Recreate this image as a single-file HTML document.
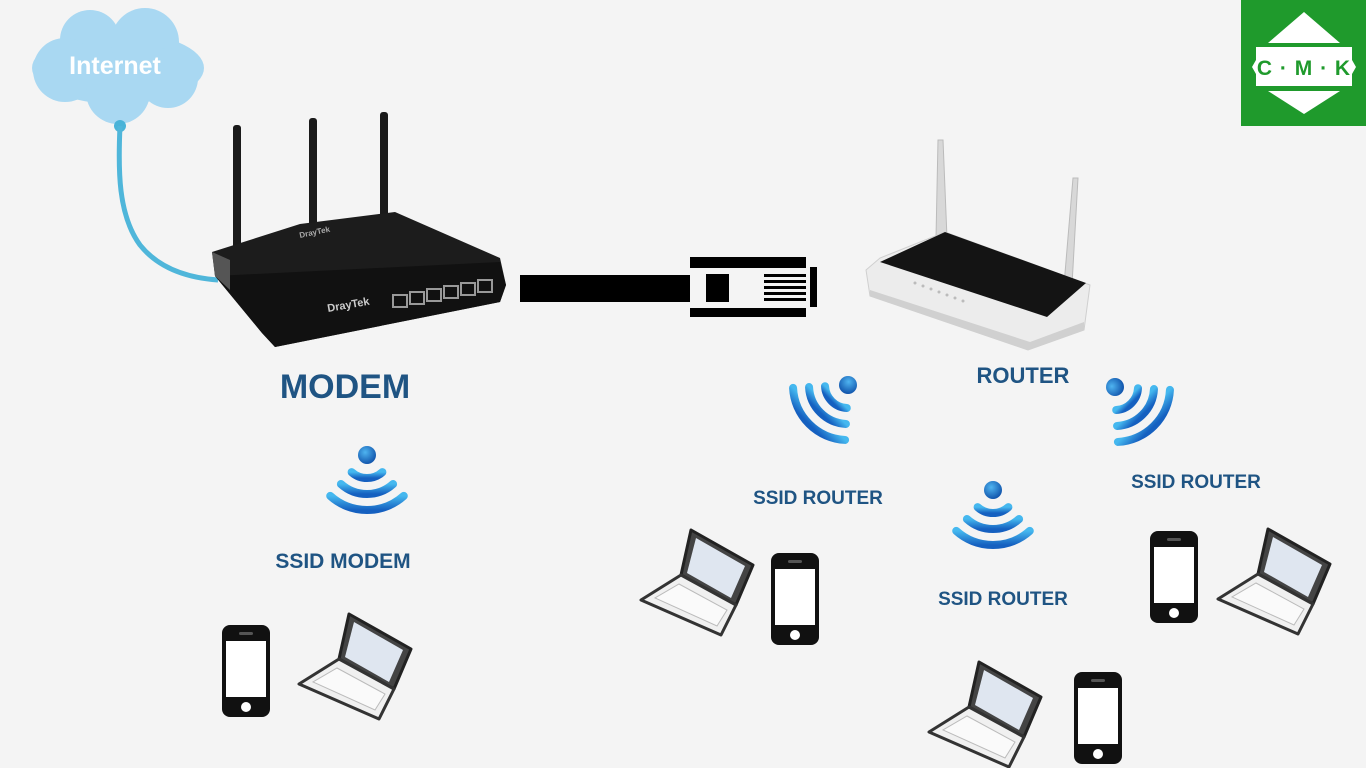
<!DOCTYPE html>
<html><head><meta charset="utf-8"><style>
html,body{margin:0;padding:0;background:#f4f4f4;}
svg{display:block;}
text{font-family:"Liberation Sans",Arial,sans-serif;font-weight:bold;}
</style></head><body>
<svg width="1366" height="768" viewBox="0 0 1366 768" xmlns="http://www.w3.org/2000/svg">
<defs>
<linearGradient id="wg" x1="0" y1="0" x2="0" y2="1">
<stop offset="0" stop-color="#45b8ef"/><stop offset="1" stop-color="#1560c0"/></linearGradient>
<radialGradient id="dg" cx="0.4" cy="0.35" r="0.7"><stop offset="0" stop-color="#4fb4f0"/><stop offset="1" stop-color="#0d4fa8"/></radialGradient>
<g id="wifi">
<circle cx="0" cy="0" r="9" fill="url(#dg)"/>
<g fill="none" stroke="url(#wg)" stroke-width="8" stroke-linecap="round">
<path d="M15.4 17.1 A23 23 0 0 1 -15.4 17.1"/>
<path d="M26.1 29 A39 39 0 0 1 -26.1 29"/>
<path d="M36.8 40.9 A55 55 0 0 1 -36.8 40.9"/>
</g></g>
<g id="phone">
<rect x="0" y="0" width="48" height="92" rx="8" fill="#111"/>
<rect x="4" y="16" width="40" height="56" fill="#fff"/>
<rect x="17" y="7" width="14" height="3" rx="1.5" fill="#555"/>
<circle cx="24" cy="82" r="5" fill="#fff"/>
</g>
<g id="laptop">
<polygon points="50,2 112,37 95,77 40,47" fill="#444" stroke="#222" stroke-width="3" stroke-linejoin="round"/>
<polygon points="55,10 104,38 90,70 46,45" fill="#dfe6f0"/>
<polygon points="40,47 95,77 80,107 0,72" fill="#f0f0f0" stroke="#333" stroke-width="3" stroke-linejoin="round"/>
<polygon points="38,56 86,82 76,98 14,70" fill="#fafafa" stroke="#bbb" stroke-width="1"/>
</g>
</defs>

<g fill="#a9d8f2">
<ellipse cx="118" cy="68" rx="86" ry="36"/>
<circle cx="90" cy="40" r="30"/>
<circle cx="145" cy="42" r="34"/>
<circle cx="65" cy="70" r="32"/>
<circle cx="118" cy="92" r="32"/>
<circle cx="168" cy="78" r="30"/>
</g>
<text x="115" y="74" font-size="25" fill="#fff" text-anchor="middle">Internet</text>
<circle cx="120" cy="126" r="6" fill="#49b3d8"/>
<path d="M120 126 C118 170 118 215 140 245 C160 270 190 278 218 280" fill="none" stroke="#4fb6da" stroke-width="5"/>

<g fill="#1a1a1a">
<rect x="233" y="125" width="8" height="130" rx="3"/>
<rect x="309" y="118" width="8" height="112" rx="3"/>
<rect x="380" y="112" width="8" height="105" rx="3"/>
</g>
<polygon points="212,252 300,224 395,212 500,258 506,285 500,302 275,347 262,333 215,276" fill="#1c1c1c"/>
<polygon points="215,276 500,262 506,285 500,302 275,347 262,333" fill="#111"/>
<polygon points="212,252 230,260 230,290 215,276" fill="#555"/>
<g fill="none" stroke="#999" stroke-width="2">
<rect x="393" y="295" width="14" height="12"/><rect x="410" y="292" width="14" height="12"/>
<rect x="427" y="289" width="14" height="12"/><rect x="444" y="286" width="14" height="12"/>
<rect x="461" y="283" width="14" height="12"/><rect x="478" y="280" width="14" height="12"/>
</g>
<text x="328" y="312" font-size="11" fill="#ccc" transform="rotate(-10 328 312)">DrayTek</text>
<text x="300" y="238" font-size="8" fill="#aaa" transform="rotate(-12 300 238)">DrayTek</text>

<rect x="520" y="275" width="170" height="27" fill="#000"/>
<rect x="690" y="257" width="116" height="11" fill="#000"/>
<rect x="690" y="308" width="116" height="9" fill="#000"/>
<rect x="706" y="274" width="23" height="28" fill="#000"/>
<g fill="#000">
<rect x="764" y="274" width="42" height="3"/><rect x="764" y="280" width="42" height="3"/>
<rect x="764" y="286" width="42" height="3"/><rect x="764" y="292" width="42" height="3"/>
<rect x="764" y="298" width="42" height="3"/>
</g>
<rect x="810" y="267" width="7" height="40" fill="#000"/>

<polygon points="938,140 943,140 947,238 936,238" fill="#d8d8d8" stroke="#bbb" stroke-width="1"/>
<polygon points="1073,178 1078,178 1072,285 1064,285" fill="#d8d8d8" stroke="#bbb" stroke-width="1"/>
<polygon points="866,270 880,258 945,232 1090,285 1084,330 1028,350 870,296" fill="#ececec" stroke="#cfcfcf" stroke-width="1"/>
<polygon points="870,290 1030,342 1084,322 1084,330 1028,350 870,296" fill="#d0d0d0"/>
<polygon points="880,262 945,232 1086,283 1047,317" fill="#141414"/>
<g fill="#bbb"><circle cx="915" cy="283" r="1.5"/><circle cx="923" cy="286" r="1.5"/><circle cx="931" cy="289" r="1.5"/><circle cx="939" cy="292" r="1.5"/><circle cx="947" cy="295" r="1.5"/><circle cx="955" cy="298" r="1.5"/><circle cx="963" cy="301" r="1.5"/></g>

<text x="345" y="398" font-size="34" fill="#1f5483" text-anchor="middle">MODEM</text>
<text x="1023" y="383" font-size="22" fill="#1f5483" text-anchor="middle">ROUTER</text>
<text x="818" y="504" font-size="19" fill="#1f5483" text-anchor="middle">SSID ROUTER</text>
<text x="1196" y="488" font-size="19" fill="#1f5483" text-anchor="middle">SSID ROUTER</text>
<text x="1003" y="605" font-size="19" fill="#1f5483" text-anchor="middle">SSID ROUTER</text>
<text x="343" y="568" font-size="21" fill="#1f5483" text-anchor="middle">SSID MODEM</text>

<use href="#wifi" transform="translate(367,455)"/>
<use href="#wifi" transform="translate(993,490)"/>
<use href="#wifi" transform="translate(848,385) rotate(45)"/>
<use href="#wifi" transform="translate(1115,387) rotate(-45)"/>

<use href="#laptop" transform="translate(641,528)"/>
<use href="#phone" transform="translate(771,553)"/>
<use href="#phone" transform="translate(222,625)"/>
<use href="#laptop" transform="translate(299,612)"/>
<use href="#laptop" transform="translate(929,660)"/>
<use href="#phone" transform="translate(1074,672)"/>
<use href="#phone" transform="translate(1150,531)"/>
<use href="#laptop" transform="translate(1218,527)"/>

<rect x="1241" y="0" width="125" height="126" fill="#1f9a2c"/>
<polygon points="1304,12 1340,43 1268,43" fill="#fff"/>
<polygon points="1304,114 1340,91 1268,91" fill="#fff"/>
<polygon points="1256,47 1352,47 1352,60 1356,67 1352,74 1352,86 1256,86 1256,74 1252,67 1256,60" fill="#fff"/>
<text x="1304" y="75" font-size="21" fill="#1f9a2c" text-anchor="middle" letter-spacing="1">C · M · K</text>
</svg>
</body></html>
